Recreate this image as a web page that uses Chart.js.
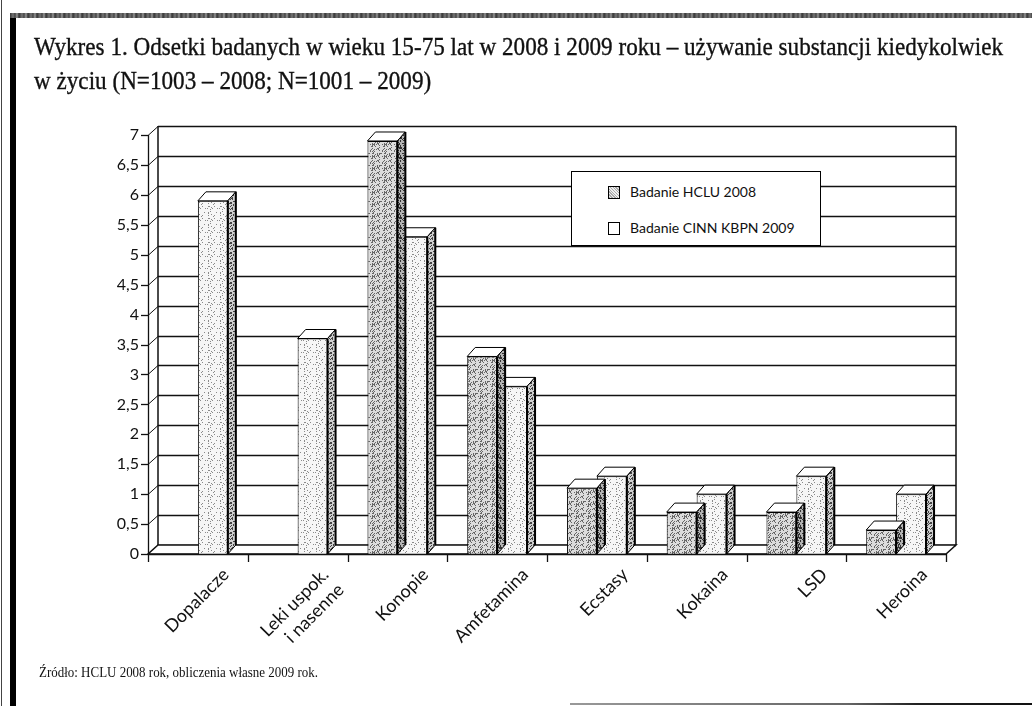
<!DOCTYPE html>
<html>
<head>
<meta charset="utf-8">
<script src="https://cdn.jsdelivr.net/npm/chart.js@4.4.1/dist/chart.umd.min.js"></script>
<style>
html,body{margin:0;padding:0;background:#fff;}
#wrap{position:relative;width:1032px;height:706px;overflow:hidden;background:#fff;}
#c{position:absolute;left:0;top:0;}
.frame{position:absolute;}
.ttl{position:absolute;left:34px;font-family:'Liberation Serif','DejaVu Serif',serif;font-size:25px;color:#111;white-space:nowrap;transform-origin:0 0;line-height:1;-webkit-text-stroke:0.35px #111;}
#foot{position:absolute;left:39px;top:665px;font-family:'Liberation Serif','DejaVu Serif',serif;font-size:15px;color:#111;white-space:nowrap;line-height:1;transform-origin:0 0;}
#legend{position:absolute;left:571px;top:171px;width:250px;height:75px;border:1px solid #000;background:#fff;box-sizing:border-box;}
.lrow{position:absolute;left:36px;height:16px;font-family:'Lato','Roboto',sans-serif;font-size:14px;color:#111;white-space:nowrap;line-height:16px;}
.lsw{position:absolute;left:0;top:1px;width:10px;height:11px;border:1px solid #000;}
.ltx{position:absolute;left:22px;top:-1px;}
</style>
</head>
<body>
<div id="wrap">
  <canvas id="c" width="1032" height="706"></canvas>
  <div class="frame" style="left:1px;top:0;width:1px;height:706px;background:#444;"></div>
  <div class="frame" style="left:10px;top:13px;width:6px;height:693px;background:#000;"></div>
  <div class="frame" style="left:10px;top:13px;width:1022px;height:5px;background:repeating-linear-gradient(90deg,#333 0px,#777 3px,#444 5px,#999 7px,#333 9px);"></div>
  <div class="frame" style="left:570px;top:703px;width:462px;height:2px;background:linear-gradient(90deg,#999 0%,#666 60%,#222 75%,#111 100%);"></div>
  <div id="t1" class="ttl" style="top:34px;">Wykres 1. Odsetki badanych w wieku 15-75 lat w 2008 i 2009 roku – używanie substancji kiedykolwiek</div>
  <div id="t2" class="ttl" style="top:68px;">w życiu (N=1003 – 2008; N=1001 – 2009)</div>
  <div id="legend"></div>
  <div id="foot">Źródło: HCLU 2008 rok, obliczenia własne 2009 rok.</div>
</div>
<script>
// ---- data ----
const categories = ['Dopalacze', ['Leki uspok.', 'i nasenne'], 'Konopie', 'Amfetamina', 'Ecstasy', 'Kokaina', 'LSD', 'Heroina'];
const seriesNames = ['Badanie HCLU 2008', 'Badanie CINN KBPN 2009'];
const hclu2008 = [null, null, 6.9, 3.3, 1.1, 0.7, 0.7, 0.4];
const cinn2009 = [5.9, 3.6, 5.3, 2.8, 1.3, 1.0, 1.3, 1.0];
const yTicks = [0, 0.5, 1, 1.5, 2, 2.5, 3, 3.5, 4, 4.5, 5, 5.5, 6, 6.5, 7];
const yTickLabels = ['0', '0,5', '1', '1,5', '2', '2,5', '3', '3,5', '4', '4,5', '5', '5,5', '6', '6,5', '7'];

// ---- title / footer fit ----
(function(){
  const t1 = document.getElementById('t1'), t2 = document.getElementById('t2');
  const s = (1003 - 34) / t1.getBoundingClientRect().width;
  t1.style.transform = 'scaleX(' + s + ')';
  t2.style.transform = 'scaleX(' + s + ')';
  const f = document.getElementById('foot');
  f.style.transform = 'scaleX(' + ((318 - 39) / f.getBoundingClientRect().width) + ')';
})();

// ---- textures ----
function makePattern(base, dot, density, seed, size) {
  const c = document.createElement('canvas');
  c.width = c.height = size;
  const g = c.getContext('2d');
  g.fillStyle = base; g.fillRect(0, 0, size, size);
  g.fillStyle = dot;
  let s = seed;
  for (let y = 0; y < size; y++) for (let x = 0; x < size; x++) {
    s = (s * 1103515245 + 12345) & 0x7fffffff;
    if ((s % 1000) / 1000 < density) g.fillRect(x, y, 1, 1);
  }
  return g.createPattern(c, 'repeat');
}
const pat2008 = makePattern('#dcdcdc', '#666', 0.30, 7, 12);
const pat2009 = makePattern('#f6f6f6', '#8a8a8a', 0.09, 13, 12);
const side2008 = makePattern('#b4b4b4', '#333', 0.40, 21, 10);
const side2009 = makePattern('#d0d0d0', '#444', 0.35, 29, 10);
const sidePats = [side2008, side2009];

// legend (HTML, built from series names)
(function(){
  const lg = document.getElementById('legend');
  const tops = [13, 49];
  const fills = ['repeating-linear-gradient(45deg,#aaa 0 1px,#eee 1px 2px)', '#fff'];
  seriesNames.forEach((n, i) => {
    const r = document.createElement('div');
    r.className = 'lrow'; r.style.top = tops[i] + 'px';
    r.innerHTML = '<div class="lsw" style="background:' + fills[i] + '"></div><div class="ltx"></div>';
    r.querySelector('.ltx').textContent = n;
    lg.appendChild(r);
  });
})();

const DX = 10, DY = -9;     // wall depth
const BDX = 8, BDY = -9;    // bar depth
const FONT = "'Lato','Roboto',sans-serif";

const depthPlugin = {
  id: 'depth',
  beforeDatasetsDraw(chart) {
    const { ctx, chartArea: a, scales: { y } } = chart;
    const b = a.bottom, t = y.getPixelForValue(7);
    ctx.save();
    ctx.strokeStyle = '#111';
    ctx.lineWidth = 1;
    ctx.fillStyle = '#fff';
    ctx.fillRect(a.left + DX, t + DY, a.right - a.left, b - t);
    ctx.beginPath();
    ctx.moveTo(a.left, b); ctx.lineTo(a.left, t);
    ctx.lineTo(a.left + DX, t + DY); ctx.lineTo(a.left + DX, b + DY); ctx.closePath();
    ctx.fill();
    yTicks.forEach(v => {
      const py = Math.round(y.getPixelForValue(v)) + 0.5;
      ctx.lineWidth = 1.4;
      ctx.beginPath();
      ctx.moveTo(a.left + DX, py + DY); ctx.lineTo(a.right + DX, py + DY);
      ctx.stroke();
      ctx.lineWidth = 1;
      ctx.beginPath();
      ctx.moveTo(a.left, py); ctx.lineTo(a.left + DX, py + DY);
      ctx.stroke();
    });
    ctx.lineWidth = 1.5;
    ctx.beginPath();
    ctx.moveTo(a.left + DX, t + DY); ctx.lineTo(a.left + DX, b + DY);
    ctx.moveTo(a.right + DX, t + DY); ctx.lineTo(a.right + DX, b + DY);
    ctx.stroke();
    ctx.beginPath();
    ctx.moveTo(a.left, b); ctx.lineTo(a.right, b);
    ctx.lineTo(a.right + DX, b + DY); ctx.lineTo(a.left + DX, b + DY); ctx.closePath();
    ctx.fillStyle = '#fff'; ctx.fill(); ctx.stroke();
    ctx.restore();
  },
  afterDatasetDraw(chart, args) {
    const { ctx } = chart;
    const meta = chart.getDatasetMeta(args.index);
    const data = chart.data.datasets[args.index].data;
    ctx.save();
    ctx.strokeStyle = '#000';
    ctx.lineWidth = 1;
    meta.data.forEach((bar, i) => {
      if (data[i] === null || data[i] === undefined) return;
      const p = bar.getProps(['x', 'y', 'base', 'width'], true);
      const l = p.x - p.width / 2, r = p.x + p.width / 2, ty = p.y, by = p.base;
      ctx.beginPath();
      ctx.moveTo(l, ty); ctx.lineTo(r, ty); ctx.lineTo(r + BDX, ty + BDY); ctx.lineTo(l + BDX, ty + BDY); ctx.closePath();
      ctx.fillStyle = '#fff'; ctx.fill(); ctx.stroke();
      ctx.beginPath();
      ctx.moveTo(r, ty); ctx.lineTo(r + BDX, ty + BDY); ctx.lineTo(r + BDX, by + BDY); ctx.lineTo(r, by); ctx.closePath();
      ctx.fillStyle = sidePats[args.index]; ctx.fill(); ctx.stroke();
      ctx.lineWidth = 2;
      ctx.beginPath(); ctx.moveTo(r, ty); ctx.lineTo(r, by); ctx.stroke();
      ctx.beginPath(); ctx.moveTo(r + BDX, ty + BDY); ctx.lineTo(r + BDX, by + BDY); ctx.stroke();
      ctx.lineWidth = 1;
    });
    ctx.restore();
  },
  afterDatasetsDraw(chart) {
    const { ctx, chartArea: a, scales: { y } } = chart;
    const b = a.bottom, t = y.getPixelForValue(7);
    ctx.save();
    ctx.strokeStyle = '#111';
    ctx.lineWidth = 1.3;
    ctx.beginPath();
    ctx.moveTo(a.left + 0.5, t); ctx.lineTo(a.left + 0.5, b);
    ctx.stroke();
    yTicks.forEach(v => {
      const py = Math.round(y.getPixelForValue(v)) + 0.5;
      ctx.beginPath(); ctx.moveTo(a.left - 7, py); ctx.lineTo(a.left, py); ctx.stroke();
    });
    ctx.beginPath(); ctx.moveTo(a.left, b + 0.5); ctx.lineTo(a.right, b + 0.5); ctx.stroke();
    const n = categories.length, step = (a.right - a.left) / n;
    for (let i = 0; i <= n; i++) {
      const px = Math.round(a.left + i * step) + 0.5;
      ctx.beginPath(); ctx.moveTo(px, b); ctx.lineTo(px, b + 8); ctx.stroke();
    }
    ctx.restore();
  }
};

new Chart(document.getElementById('c'), {
  type: 'bar',
  data: {
    labels: categories,
    datasets: [
      { label: seriesNames[0], data: hclu2008, backgroundColor: pat2008, borderColor: '#000', borderWidth: 1, barPercentage: 1.0, categoryPercentage: 0.6 },
      { label: seriesNames[1], data: cinn2009, backgroundColor: pat2009, borderColor: '#000', borderWidth: 1, barPercentage: 1.0, categoryPercentage: 0.6 }
    ]
  },
  options: {
    responsive: false,
    animation: false,
    devicePixelRatio: 1,
    layout: { padding: { left: 0, top: 135, right: 86, bottom: 0 } },
    plugins: { legend: { display: false }, tooltip: { enabled: false }, title: { display: false } },
    scales: {
      x: {
        grid: { display: false, drawTicks: false },
        border: { display: false },
        ticks: { autoSkip: false, maxRotation: 45, minRotation: 45, labelOffset: 28, padding: 10, color: '#111', font: { family: FONT, size: 18 } },
        afterFit(s) { s.height = 152; s.paddingLeft = 0; s.paddingRight = 0; }
      },
      y: {
        min: 0, max: 7,
        afterBuildTicks(s) { s.ticks = yTicks.map(v => ({ value: v })); },
        grid: { display: false, drawTicks: false },
        border: { display: false },
        ticks: { padding: 9, color: '#111', font: { family: FONT, size: 16 }, callback: (v) => yTickLabels[yTicks.indexOf(v)] },
        afterFit(s) { s.width = 148; }
      }
    }
  },
  plugins: [depthPlugin]
});
</script>
</body>
</html>
